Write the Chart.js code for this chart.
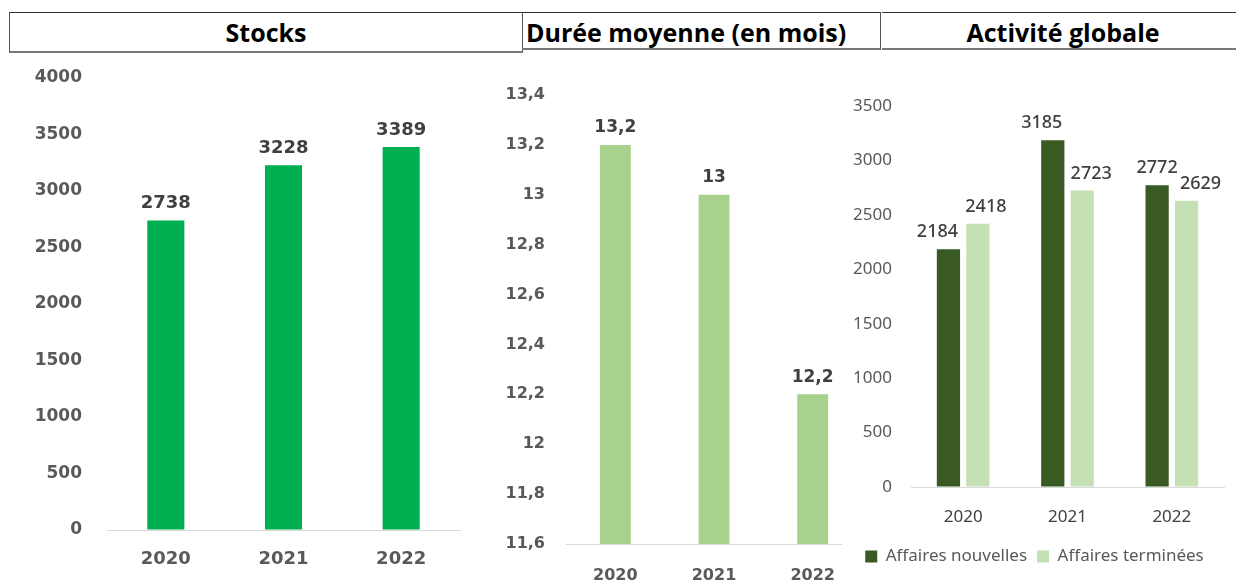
<!DOCTYPE html>
<html>
<head>
<meta charset="utf-8">
<script src="https://cdn.jsdelivr.net/npm/chart.js@4"></script>
<style>
  body { margin: 0; width: 1236px; height: 583px; background: #fff; position: relative; overflow: hidden; }
  .head { position: absolute; top: 12px; height: 38px; border-top: 1px solid #333; border-bottom: 2px solid #777;
          font-family: "Open Sans", sans-serif; font-weight: 700; font-size: 25px; line-height: 38px; color: #000; }
  #h1 { left: 9px; width: 512px; border-left: 1px solid #555; border-right: 1px solid #555; text-align: center; }
  #h2 { left: 522px; width: 359px; border-right: 1px solid #555; padding-left: 4px; box-sizing: border-box; white-space: nowrap; }
  #h3 { left: 882px; width: 354px; text-align: center; padding-left: 8px; box-sizing: border-box; }
  canvas { position: absolute; }
  #wrap2 { position: absolute; left: 470px; top: 60px; width: 372px; height: 523px; overflow: hidden; }
</style>
</head>
<body>
<div class="head" id="h1">Stocks</div>
<div class="head" id="h2">Durée moyenne (en mois)</div>
<div class="head" id="h3">Activité globale</div>

<canvas id="c1" width="470" height="523" style="left:0;top:60px"></canvas>
<div id="wrap2"><canvas id="c2" width="400" height="523" style="left:0;top:0"></canvas></div>
<canvas id="c3" width="391" height="523" style="left:845px;top:60px"></canvas>

<script>
const years = ['2020', '2021', '2022'];
const stocks = [2738, 3228, 3389];
const dureeMoyenne = [13.2, 13, 12.2];
const affairesNouvelles = [2184, 3185, 2772];
const affairesTerminees = [2418, 2723, 2629];

const frNum = v => String(Number(v.toFixed(1))).replace('.', ',');

// value labels above each bar
const valueLabels = {
  id: 'valueLabels',
  afterDatasetsDraw(chart, args, opts) {
    const ctx = chart.ctx;
    ctx.save();
    ctx.font = opts.font;
    ctx.fillStyle = opts.color;
    ctx.textAlign = 'center';
    ctx.textBaseline = 'middle';
    chart.data.datasets.forEach((ds, i) => {
      chart.getDatasetMeta(i).data.forEach((bar, j) => {
        const dx = ds.labelShift ? ds.labelShift[j] : 0;
        ctx.fillText(frNum(ds.data[j]), bar.x + dx, bar.y - 17);
      });
    });
    ctx.restore();
  }
};

function baseOptions(o) {
  return {
    responsive: false,
    animation: false,
    layout: { padding: o.padding },
    plugins: {
      legend: { display: false },
      tooltip: { enabled: false },
      valueLabels: { font: o.labelFont, color: '#404040' }
    },
    scales: {
      x: {
        grid: { display: false, drawTicks: false },
        border: { display: true, color: '#d9d9d9', width: 1 },
        ticks: { padding: o.xPad, color: o.tickColor, font: o.xFont },
        afterFit: s => { s.height = o.xHeight; }
      },
      y: {
        min: o.min, max: o.max,
        // invisible tick marks push the labels away from the plot
        grid: { display: true, drawOnChartArea: false, drawTicks: true, tickLength: o.yGap, tickColor: 'rgba(0,0,0,0)' },
        border: { display: false },
        ticks: { stepSize: o.step, padding: 4, color: '#595959', font: o.yFont, callback: v => frNum(v) },
        afterFit: s => { s.width = o.yWidth; }
      }
    }
  };
}

const tickFont1 = { family: 'DejaVu Sans', weight: 'bold', size: 17 };
const xFont1 = { family: 'DejaVu Sans', weight: 'bold', size: 18 };

new Chart(document.getElementById('c1'), {
  type: 'bar',
  data: {
    labels: years,
    datasets: [{ label: 'Stocks', data: stocks, backgroundColor: '#00b050', categoryPercentage: 1, barPercentage: 0.315 }]
  },
  options: baseOptions({
    padding: { top: 18, right: 10, left: 0, bottom: 0 },
    labelFont: 'bold 18px "DejaVu Sans"', tickColor: '#595959',
    xFont: xFont1, yFont: tickFont1, xPad: 19, xHeight: 53,
    min: 0, max: 4000, step: 500, yGap: 21, yWidth: 107
  }),
  plugins: [valueLabels]
});

const font2 = { family: 'DejaVu Sans', weight: 'bold', size: 16 };
new Chart(document.getElementById('c2'), {
  type: 'bar',
  data: {
    labels: years,
    datasets: [{ label: 'Durée moyenne', data: dureeMoyenne, backgroundColor: '#a9d18e', categoryPercentage: 1, barPercentage: 0.313 }]
  },
  options: baseOptions({
    padding: { top: 35, right: 8, left: 0, bottom: 0 },
    labelFont: 'bold 17px "DejaVu Sans"', tickColor: '#595959',
    xFont: font2, yFont: font2, xPad: 22, xHeight: 39,
    min: 11.6, max: 13.4, step: 0.2, yGap: 17, yWidth: 96
  }),
  plugins: [valueLabels]
});

const font3 = { family: 'Noto Sans', size: 17 };
const opts3 = baseOptions({
  padding: { top: 46, right: 12, left: 0, bottom: 8 },
  labelFont: '500 18px "Noto Sans"', tickColor: '#404040',
  xFont: font3, yFont: font3, xPad: 20, xHeight: 51,
  min: 0, max: 3500, step: 500, yGap: 15, yWidth: 66
});
opts3.plugins.legend = {
  display: true,
  position: 'bottom',
  labels: { boxWidth: 12, boxHeight: 12, padding: 10, color: '#595959', font: { family: 'Noto Sans', size: 17 } }
};
new Chart(document.getElementById('c3'), {
  type: 'bar',
  data: {
    labels: years,
    datasets: [
      { label: 'Affaires nouvelles', data: affairesNouvelles, backgroundColor: '#3a5a24',
        categoryPercentage: 0.564, barPercentage: 0.79, labelShift: [-11, -11, 0] },
      { label: 'Affaires terminées', data: affairesTerminees, backgroundColor: '#c5e0b4',
        categoryPercentage: 0.564, barPercentage: 0.79, labelShift: [8, 9, 14] }
    ]
  },
  options: opts3,
  plugins: [valueLabels]
});
</script>
</body>
</html>
